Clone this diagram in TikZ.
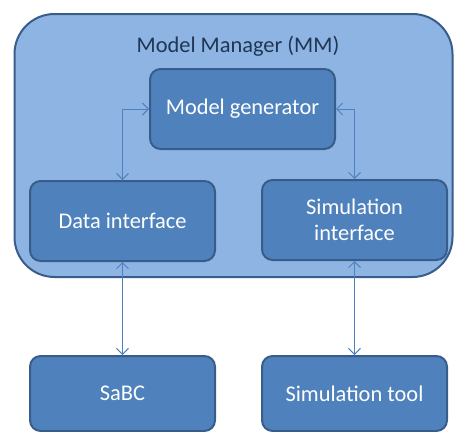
\documentclass[tikz,border=0pt]{standalone}
\usepackage{fontspec}
\setmainfont{Carlito}
\usetikzlibrary{arrows.meta}

\definecolor{mmfill}{HTML}{8EB4E3}
\definecolor{boxfill}{HTML}{4F81BD}
\definecolor{boxline}{HTML}{385D8A}
\definecolor{titletext}{HTML}{1F3655}

\begin{document}
\begin{tikzpicture}[x=0.75pt,y=-0.75pt,font=\fontsize{16.8}{19.5}\selectfont,
    >={Straight Barb[length=4.5pt,width=9pt]}]
    \tikzstyle{container}=[rectangle,rounded corners=30pt,draw=boxline,fill=mmfill,line width=1.5pt,
        minimum width=328.5pt,minimum height=197.25pt,inner sep=0pt]
    \tikzstyle{block}=[rectangle,rounded corners=8pt,draw=boxline,fill=boxfill,line width=1.5pt,
        minimum width=138.75pt,minimum height=60pt,text=white,align=center,inner sep=0pt]
    \tikzstyle{link}=[<->,draw=boxfill,line width=0.75pt]

    \useasboundingbox (0,0) rectangle (454,432);

    % Draw the model manager
    \node[container] (MM) at (233.5,145.5) {};
    \node[text=titletext] (MM-title) at (238,46) {Model Manager (MM)};

    % Draw the inner blocks
    \node[block] (gen) at (242.5,109) {Model generator};
    \node[block] (data) at (122.5,221) {Data interface};
    \node[block] (sim) at (354.5,220) {Simulation\\interface};

    % Draw the outside blocks
    \node[block,minimum height=56.25pt] (sabc) at (122.5,393.5) {SaBC};
    \node[block,minimum height=56.25pt] (tool) at (354.5,393.5) {Simulation tool};

    \path[link] (gen.west) -| (data.north);
    \path[link] (gen.east) -| (sim.north);
    \path[link] (data) -- (sabc);
    \path[link] (sim) -- (tool);
\end{tikzpicture}
\end{document}
